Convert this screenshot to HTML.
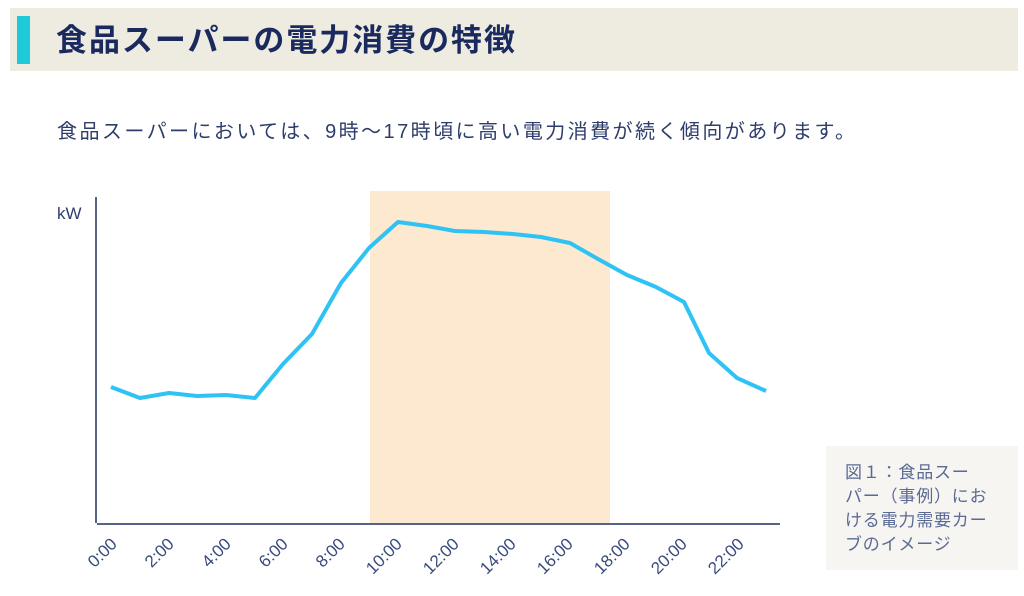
<!DOCTYPE html>
<html><head><meta charset="utf-8"><style>
body{margin:0;width:1024px;height:596px;background:#fff;overflow:hidden;font-family:"Liberation Sans","Noto Sans CJK JP",sans-serif;}
</style></head><body>
<svg width="1024" height="596" xmlns="http://www.w3.org/2000/svg" style="position:absolute;left:0;top:0" font-family="Liberation Sans, Noto Sans CJK JP, sans-serif">
<rect x="10" y="8" width="1008" height="63" fill="#eeebe0"/>
<rect x="17" y="16" width="13" height="48" fill="#1ecad8"/>
<text x="56" y="51" font-size="31" font-weight="bold" fill="#1a2a5e" textLength="459" lengthAdjust="spacing">食品スーパーの電力消費の特徴</text>
<text x="57" y="138" font-size="20" fill="#2e3d6b" textLength="798" lengthAdjust="spacing">食品スーパーにおいては、9時〜17時頃に高い電力消費が続く傾向があります。</text>
<rect x="370" y="191" width="240" height="332" fill="#fde9d0"/>
<line x1="96" y1="197" x2="96" y2="523" stroke="#1f2f5f" stroke-width="1.5"/>
<line x1="97" y1="524" x2="780" y2="524" stroke="#1f2f5f" stroke-width="1.5"/>
<text x="57" y="219" font-size="17" fill="#2e3d6b">kW</text>
<polyline fill="none" stroke="#2ec2f5" stroke-width="4" stroke-linejoin="round" points="111,387 140,398 169,393 197,396 226,395 255,398 283,364 312,334 341,283 369,248 398,222 427,226 455,231 484,232 513,234 541,237 570,243 598,259 627,275 656,287 684,302 709,353 737,378 766,391"/>
<g font-size="17" fill="#3a4b7e" text-anchor="end">
<text transform="translate(118,545) rotate(-45)">0:00</text>
<text transform="translate(175,545) rotate(-45)">2:00</text>
<text transform="translate(232,545) rotate(-45)">4:00</text>
<text transform="translate(289,545) rotate(-45)">6:00</text>
<text transform="translate(346,545) rotate(-45)">8:00</text>
<text transform="translate(403,545) rotate(-45)">10:00</text>
<text transform="translate(460,545) rotate(-45)">12:00</text>
<text transform="translate(517,545) rotate(-45)">14:00</text>
<text transform="translate(574,545) rotate(-45)">16:00</text>
<text transform="translate(631,545) rotate(-45)">18:00</text>
<text transform="translate(688,545) rotate(-45)">20:00</text>
<text transform="translate(745,545) rotate(-45)">22:00</text>
</g>
<rect x="826" y="446" width="192" height="124" fill="#f6f5f1"/>
<g font-size="17" fill="#5a6a94" letter-spacing="0.8">
<text x="845" y="478">図１：食品スー</text>
<text x="845" y="502">パー（事例）にお</text>
<text x="845" y="526">ける電力需要カー</text>
<text x="845" y="550">ブのイメージ</text>
</g>
</svg>
</body></html>
